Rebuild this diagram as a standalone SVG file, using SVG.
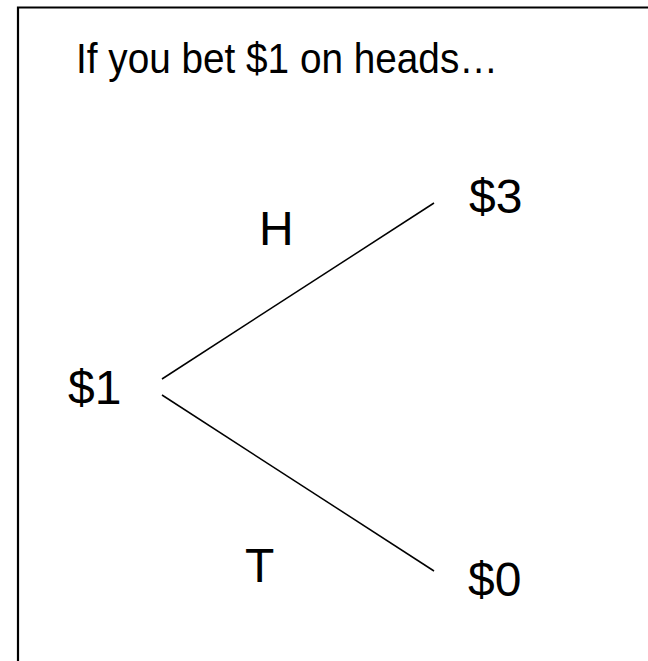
<svg xmlns="http://www.w3.org/2000/svg" width="648" height="661" viewBox="0 0 648 661">
<style>
.t{font-family:"Liberation Sans",Arial,sans-serif;fill:#000}
.big{font-size:42px}
.lbl{font-size:48px}
.edge{stroke:#000;stroke-width:1.5;fill:none}
</style>
<rect width="648" height="661" fill="#fff"/>
<path d="M18 661 V7.5 H648" fill="none" stroke="#000" stroke-width="2.2"/>
<g id="title"><text class="t big" x="76" y="73" textLength="422" lengthAdjust="spacingAndGlyphs">If you bet $1 on heads…</text></g>
<g id="connectors">
<line class="edge" x1="162" y1="379" x2="434" y2="203"/>
<line class="edge" x1="162" y1="395" x2="434" y2="571"/>
</g>
<g id="label-H"><text class="t lbl" x="259" y="245">H</text></g>
<g id="label-T"><text class="t lbl" x="245" y="582">T</text></g>
<g id="node-start"><text class="t lbl" x="68" y="404">$1</text></g>
<g id="node-win"><text class="t lbl" x="469" y="213">$3</text></g>
<g id="node-lose"><text class="t lbl" x="468" y="596">$0</text></g>
</svg>
